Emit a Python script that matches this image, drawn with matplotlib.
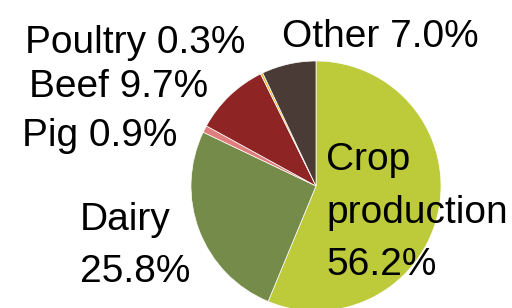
import matplotlib.pyplot as plt

# pie data (clockwise from 12 o'clock)
categories = ['Crop production', 'Dairy', 'Pig', 'Beef', 'Poultry', 'Other']
shares = [56.2, 25.8, 0.9, 9.7, 0.3, 7.0]
colors = ['#bdca3a', '#758b4a', '#e07d7d', '#8e2424', '#f0b830', '#4a3b37']

plt.rcParams['font.family'] = ['Liberation Sans', 'DejaVu Sans']

fig = plt.figure(figsize=(5.12, 3.08), dpi=100)
ax = fig.add_axes([0, 0, 1, 1])

ax.pie(shares, colors=colors, startangle=90, counterclock=False,
       center=(316, 122), radius=125, frame=True,
       wedgeprops=dict(edgecolor='white', linewidth=0.5))
ax.set_xlim(0, 512)
ax.set_ylim(0, 308)
ax.set_aspect('equal')
ax.axis('off')

# label lines: left x and baselines (pixels from the top)
label_pos = {
    'Crop production': (326, [170, 223, 275]),
    'Dairy': (80, [230, 282]),
    'Pig': (22, [146]),
    'Beef': (29, [97]),
    'Poultry': (25, [53]),
    'Other': (282, [47]),
}
for cat, val in zip(categories, shares):
    x, baselines = label_pos[cat]
    pct = '{:.1f}%'.format(val)
    if len(baselines) == 3:
        lines = cat.split(' ') + [pct]
    elif len(baselines) == 2:
        lines = [cat, pct]
    else:
        lines = [cat + ' ' + pct]
    for line, y in zip(lines, baselines):
        ax.text(x, 308 - y, line, ha='left', va='baseline', fontsize=28,
                color='black')

fig.savefig('out.png', dpi=100)
